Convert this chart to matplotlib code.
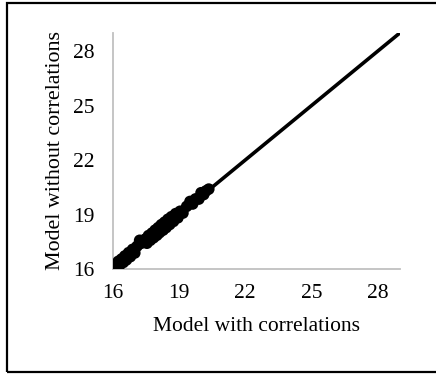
import matplotlib.pyplot as plt
from matplotlib.patches import Rectangle

# paired predictions from the two models
with_corr = [16.10, 16.18, 16.25, 16.32, 16.40, 16.48, 16.55, 16.62, 16.72, 16.80,
             16.90, 17.00, 17.10, 17.22, 17.30, 17.40, 17.48, 17.55, 17.62, 17.70,
             17.78, 17.85, 17.92, 18.00, 18.06, 18.12, 18.20, 18.28, 18.35, 18.42,
             18.50, 18.58, 18.66, 18.75, 18.85, 18.95, 19.05, 19.18, 19.35, 19.50,
             19.62, 19.75, 19.90, 20.00, 20.12, 20.22, 20.35]
without_corr = [16.20, 16.08, 16.42, 16.22, 16.55, 16.36, 16.72, 16.50, 16.90, 16.68,
                17.08, 16.88, 17.25, 17.58, 17.42, 17.52, 17.65, 17.42, 17.84, 17.58,
                17.98, 17.72, 18.14, 17.86, 18.28, 18.00, 18.44, 18.14, 18.58, 18.28,
                18.74, 18.45, 18.88, 18.62, 19.05, 18.82, 19.18, 19.08, 19.45, 19.72,
                19.58, 19.86, 19.85, 20.20, 20.10, 20.30, 20.40]
axis_min, axis_max = 16, 29
ticks = [16, 19, 22, 25, 28]

plt.rcParams["font.family"] = "Liberation Serif"

fig = plt.figure(figsize=(4.36, 3.77), dpi=100)
fig.patches.append(Rectangle((7 / 436, 5 / 377), 1.0, 1 - 8 / 377,
                             transform=fig.transFigure, fill=False,
                             edgecolor="black", linewidth=1.6))

ax = fig.add_axes([0.2585, 0.2865, 0.6585, 0.626])
ax.plot([axis_min, axis_max], [axis_min, axis_max], color="black", linewidth=2.6,
        solid_capstyle="butt", zorder=2)
ax.scatter(with_corr, without_corr, s=70, color="black", edgecolors="none", zorder=3)

ax.set_xlim(axis_min, axis_max)
ax.set_ylim(axis_min, axis_max)
ax.set_xticks(ticks)
ax.set_yticks(ticks)
ax.tick_params(length=0, labelsize=15.5)
ax.tick_params(axis="x", pad=11)
ax.tick_params(axis="y", pad=13)
for side in ("top", "right"):
    ax.spines[side].set_visible(False)
for side in ("left", "bottom"):
    ax.spines[side].set_color("#c0c0c0")
    ax.spines[side].set_linewidth(1.3)

ax.set_xlabel("Model with correlations", fontsize=15.5, labelpad=10)
ax.set_ylabel("Model without correlations", fontsize=15.8, labelpad=6)

fig.savefig("out.png", dpi=100)
